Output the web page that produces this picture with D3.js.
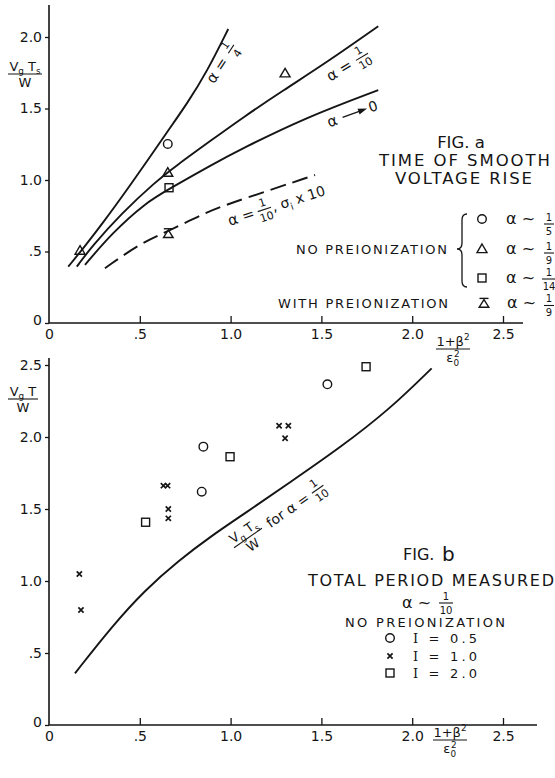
<!DOCTYPE html>
<html>
<head>
<meta charset="utf-8">
<script src="https://cdn.jsdelivr.net/npm/d3@7"></script>
<style>
  body { margin: 0; background: #fff; }
  svg text { font-family: "DejaVu Sans", sans-serif; fill: #151515; }
</style>
</head>
<body>
<div id="chart"></div>
<script>
// ---------- data ----------
const xTickValues = [0, 0.5, 1.0, 1.5, 2.0, 2.5];
const xTickLabels = ["0", ".5", "1.0", "1.5", "2.0", "2.5"];
const yTickValuesA = [0, 0.5, 1.0, 1.5, 2.0];
const yTickLabelsA = ["0", ".5", "1.0", "1.5", "2.0"];
const yTickValuesB = [0, 0.5, 1.0, 1.5, 2.0, 2.5];
const yTickLabelsB = ["0", ".5", "1.0", "1.5", "2.0", "2.5"];

// fig a - computed curves, [x, y]
const curveAlphaQuarter = [[0.106, 0.394], [0.198, 0.537], [0.300, 0.705], [0.420, 0.915], [0.540, 1.131],
  [0.650, 1.335], [0.760, 1.533], [0.870, 1.758], [0.987, 2.056]];
const curveAlphaTenth = [[0.153, 0.394], [0.235, 0.534], [0.400, 0.767], [0.584, 0.985], [0.700, 1.100],
  [0.896, 1.280], [1.065, 1.435], [1.290, 1.627], [1.529, 1.822], [1.813, 2.075]];
const curveAlphaZero = [[0.198, 0.406], [0.345, 0.626], [0.529, 0.838], [0.660, 0.936], [0.896, 1.106],
  [1.065, 1.221], [1.419, 1.440], [1.813, 1.629]];
const curvePreion = [[0.308, 0.383], [0.515, 0.568], [0.657, 0.640], [0.868, 0.778], [1.065, 0.866], [1.465, 1.035]];

// fig a - measured points
const aCircles = [[0.654, 1.252]];
const aTriangles = [[0.171, 0.506], [0.654, 1.051], [1.300, 1.746]];
const aSquares = [[0.661, 0.946]];
const aPreion = [[0.657, 0.627]];

// fig b - curve Vg Ts / W for alpha = 1/10
const bCurve = [[0.143, 0.359], [0.345, 0.683], [0.529, 0.938], [0.712, 1.140], [0.896, 1.315],
  [1.079, 1.470], [1.327, 1.685], [1.602, 1.925], [1.878, 2.195], [2.107, 2.477]];

// fig b - measured points
const bCircles = [[0.850, 1.933], [0.841, 1.620], [1.533, 2.366]];
const bCrosses = [[0.167, 1.049], [0.176, 0.799], [0.630, 1.662], [0.653, 1.662], [0.657, 1.500],
  [0.657, 1.435], [1.267, 2.078], [1.318, 2.078], [1.300, 1.991]];
const bSquares = [[0.532, 1.408], [0.997, 1.863], [1.746, 2.488]];

// legends
const legendASymbols = ["circle", "triangle", "square"];
const legendADens = ["5", "9", "14"];
const legendBSymbols = ["circle", "cross", "square"];
const legendBValues = ["0.5", "1.0", "2.0"];

// ---------- setup ----------
const W = 555, H = 778;
const ink = "#151515";

const svg = d3.select("#chart").append("svg")
  .attr("width", W).attr("height", H);
svg.append("rect").attr("width", W).attr("height", H).attr("fill", "#fff");

const x = d3.scaleLinear().domain([0, 2.5]).range([49, 503]);
const yA = d3.scaleLinear().domain([0, 2.0]).range([323, 37]);
const yB = d3.scaleLinear().domain([0, 2.5]).range([725, 365]);

// text with sub/superscripts
function rich(sel, segs, size) {
  let off = 0;
  segs.forEach(s => {
    const ts = sel.append("tspan").text(s.t);
    let target = 0;
    if (s.sub) target = size * 0.28;
    if (s.sup) target = -size * 0.42;
    if (s.sub || s.sup) ts.attr("font-size", size * 0.68);
    ts.attr("dy", target - off);
    if (s.dx) ts.attr("dx", s.dx);
    off = target;
  });
  return sel;
}

function frac(g, cx, yBar, num, den, size, halfW) {
  const t1 = g.append("text").attr("x", cx).attr("y", yBar - 3.5)
    .attr("text-anchor", "middle").attr("font-size", size);
  if (typeof num === "string") t1.text(num); else rich(t1, num, size);
  const t2 = g.append("text").attr("x", cx).attr("y", yBar + size * 0.85 + 2)
    .attr("text-anchor", "middle").attr("font-size", size);
  if (typeof den === "string") t2.text(den); else rich(t2, den, size);
  g.append("line").attr("x1", cx - halfW).attr("x2", cx + halfW)
    .attr("y1", yBar).attr("y2", yBar)
    .attr("stroke", ink).attr("stroke-width", 1.1);
}

function marker(g, type, cx, cy) {
  const m = g.append("g").attr("transform", `translate(${cx},${cy})`)
    .attr("fill", "none").attr("stroke", ink).attr("stroke-width", 1.4);
  if (type === "circle") m.append("circle").attr("r", 4.3);
  if (type === "square") m.append("rect").attr("x", -4).attr("y", -4).attr("width", 8).attr("height", 8);
  if (type === "triangle") m.append("path").attr("d", "M0,-5L5,3.6L-5,3.6Z");
  if (type === "preion") {
    m.append("path").attr("d", "M0,-3.4L4.8,4.2L-4.8,4.2Z");
    m.append("line").attr("x1", -4.5).attr("x2", 4.5).attr("y1", -4.6).attr("y2", -4.6);
  }
  if (type === "cross") {
    m.attr("stroke-width", 1.7);
    m.append("path").attr("d", "M-2.6,-2.6L2.6,2.6M2.6,-2.6L-2.6,2.6");
  }
}

function drawAxes(g, y, yVals, yLabels, xEnd, yTop) {
  const xAxis = d3.axisBottom(x).tickValues(xTickValues)
    .tickFormat((d, i) => xTickLabels[i]).tickSizeInner(-7).tickSizeOuter(0).tickPadding(6);
  const gx = g.append("g").attr("transform", `translate(0,${y(0)})`).call(xAxis);
  gx.select(".domain").remove();
  gx.selectAll(".tick line").attr("stroke", ink).attr("stroke-width", 1.3);
  gx.selectAll(".tick text").attr("font-size", 14).attr("fill", ink)
    .attr("font-family", "DejaVu Sans, sans-serif");
  gx.selectAll(".tick").filter(d => d === 0).select("line").remove();

  const yAxis = d3.axisLeft(y).tickValues(yVals)
    .tickFormat((d, i) => yLabels[i]).tickSizeInner(4).tickSizeOuter(0).tickPadding(3);
  const gy = g.append("g").attr("transform", `translate(${x(0)},0)`).call(yAxis);
  gy.select(".domain").remove();
  gy.selectAll(".tick line").attr("stroke", ink).attr("stroke-width", 1.3);
  gy.selectAll(".tick text").attr("font-size", 14).attr("fill", ink)
    .attr("font-family", "DejaVu Sans, sans-serif");
  gy.selectAll(".tick").filter(d => d === 0).select("text").attr("dy", "0.1em");

  g.append("line").attr("x1", x(0)).attr("x2", xEnd).attr("y1", y(0)).attr("y2", y(0))
    .attr("stroke", ink).attr("stroke-width", 1.6);
  g.append("line").attr("x1", x(0)).attr("x2", x(0)).attr("y1", yTop).attr("y2", y(0))
    .attr("stroke", ink).attr("stroke-width", 1.6);
}

function curve(g, data, y, dash) {
  const line = d3.line().x(d => x(d[0])).y(d => y(d[1])).curve(d3.curveBasis);
  g.append("path").datum(data).attr("d", line)
    .attr("fill", "none").attr("stroke", ink).attr("stroke-width", 1.9)
    .attr("stroke-dasharray", dash || null);
}

const xFracNum = [{ t: "1+β" }, { t: "2", sup: true }];
const xFracDen = [{ t: "ε" }, { t: "0", sub: true }, { t: "2", sup: true, dx: -5 }];

// ---------- fig a ----------
const ga = svg.append("g").attr("class", "fig-a");
drawAxes(ga, yA, yTickValuesA, yTickLabelsA, 523, 5);

curve(ga, curveAlphaQuarter, yA);
curve(ga, curveAlphaTenth, yA);
curve(ga, curveAlphaZero, yA);
curve(ga, curvePreion, yA, "16,7");

aCircles.forEach(d => marker(ga, "circle", x(d[0]), yA(d[1])));
aTriangles.forEach(d => marker(ga, "triangle", x(d[0]), yA(d[1])));
aSquares.forEach(d => marker(ga, "square", x(d[0]), yA(d[1])));
aPreion.forEach(d => marker(ga, "preion", x(d[0]), yA(d[1])));

// y label
frac(ga, 25, 74, [{ t: "V" }, { t: "g", sub: true }, { t: " T" }, { t: "s", sub: true }], "W", 13, 17);
// x label
frac(ga, 453, 349, xFracNum, xFracDen, 13, 17);

// curve labels
const lq = ga.append("g").attr("transform", "translate(224,60) rotate(-57)");
lq.append("text").attr("x", -26).attr("y", 5).attr("font-size", 15).text("α =");
frac(lq, 13, 0, "1", "4", 11, 5);

const lt = ga.append("g").attr("transform", "translate(350,64) rotate(-31)");
lt.append("text").attr("x", -26).attr("y", 5).attr("font-size", 15).text("α =");
frac(lt, 14, 0, "1", "10", 11, 7);

const lz = ga.append("g").attr("transform", "translate(352,114) rotate(-20)");
lz.append("text").attr("x", -26).attr("y", 5).attr("font-size", 15).text("α");
lz.append("line").attr("x1", -10).attr("x2", 12).attr("y1", 0).attr("y2", 0)
  .attr("stroke", ink).attr("stroke-width", 1.3);
lz.append("path").attr("d", "M16,0L7,-3L7,3Z").attr("fill", ink);
lz.append("text").attr("x", 18).attr("y", 5).attr("font-size", 14).text("0");

const lp = ga.append("g").attr("transform", "translate(272,207) rotate(-18)");
lp.append("text").attr("x", -46).attr("y", 5).attr("font-size", 15).text("α =");
frac(lp, -8, 0, "1", "10", 11, 7);
rich(lp.append("text").attr("x", 0).attr("y", 5).attr("font-size", 14),
  [{ t: ", σ" }, { t: "i", sub: true }, { t: " x 10" }], 14);

// title
ga.append("text").attr("x", 461).attr("y", 148).attr("text-anchor", "middle")
  .attr("font-size", 16.5).text("FIG. a");
ga.append("text").attr("x", 379).attr("y", 166).attr("font-size", 16.5)
  .attr("textLength", 171).attr("lengthAdjust", "spacing").text("TIME OF SMOOTH");
ga.append("text").attr("x", 395).attr("y", 184).attr("font-size", 16.5)
  .attr("textLength", 137).attr("lengthAdjust", "spacing").text("VOLTAGE RISE");

// legend a
const rowsA = [219, 249, 278];
const barShiftA = [5, 4, 1];
ga.append("text").attr("x", 296).attr("y", 254).attr("font-size", 13)
  .attr("textLength", 151).attr("lengthAdjust", "spacing").text("NO PREIONIZATION");
ga.append("path")
  .attr("d", "M467,214Q462,214 462,220L462,243Q462,249 457,249Q462,249 462,255L462,281Q462,287 467,287")
  .attr("fill", "none").attr("stroke", ink).attr("stroke-width", 1.3);
rowsA.forEach((ry, i) => {
  marker(ga, legendASymbols[i], 482, ry);
  ga.append("text").attr("x", 506).attr("y", ry + 5).attr("font-size", 16).text("α ~");
  frac(ga, 549, ry + barShiftA[i], "1", legendADens[i], 10, legendADens[i].length > 1 ? 7 : 5);
});
ga.append("text").attr("x", 278).attr("y", 308).attr("font-size", 13)
  .attr("textLength", 170).attr("lengthAdjust", "spacing").text("WITH PREIONIZATION");
marker(ga, "preion", 484, 303);
ga.append("text").attr("x", 507).attr("y", 308).attr("font-size", 16).text("α ~");
frac(ga, 549, 305.5, "1", "9", 10, 5);

// ---------- fig b ----------
const gb = svg.append("g").attr("class", "fig-b");
drawAxes(gb, yB, yTickValuesB, yTickLabelsB, 537, 358);

curve(gb, bCurve, yB);
bCircles.forEach(d => marker(gb, "circle", x(d[0]), yB(d[1])));
bCrosses.forEach(d => marker(gb, "cross", x(d[0]), yB(d[1])));
bSquares.forEach(d => marker(gb, "square", x(d[0]), yB(d[1])));

frac(gb, 23, 399, [{ t: "V" }, { t: "g", sub: true }, { t: " T" }], "W", 13, 15);
frac(gb, 450, 740, xFracNum, xFracDen, 13, 17);

// curve label
const lb = gb.append("g").attr("transform", "translate(248,538) rotate(-35)");
frac(lb, 0, 0, [{ t: "V" }, { t: "g", sub: true }, { t: " T" }, { t: "s", sub: true }], "W", 13, 17);
lb.append("text").attr("x", 24).attr("y", 5).attr("font-size", 14).text("for α =");
frac(lb, 85, 0, "1", "10", 11, 7);

// title + legend b
gb.append("text").attr("x", 403).attr("y", 560).attr("font-size", 16).text("FIG.");
gb.append("text").attr("x", 442).attr("y", 561).attr("font-size", 20).text("b");
gb.append("text").attr("x", 308).attr("y", 586).attr("font-size", 16)
  .attr("textLength", 246).attr("lengthAdjust", "spacing").text("TOTAL PERIOD MEASURED");
gb.append("text").attr("x", 402).attr("y", 608).attr("font-size", 16).text("α ~");
frac(gb, 446, 603, "1", "10", 10, 7);
gb.append("text").attr("x", 345).attr("y", 627).attr("font-size", 13)
  .attr("textLength", 160).attr("lengthAdjust", "spacing").text("NO PREIONIZATION");
const rowsB = [638, 656, 673];
rowsB.forEach((ry, i) => {
  marker(gb, legendBSymbols[i], 390, ry);
  const t = gb.append("text").attr("x", 413).attr("y", ry + 5).attr("font-size", 13)
    .attr("textLength", 64).attr("lengthAdjust", "spacing");
  t.append("tspan").attr("font-family", "DejaVu Serif, serif").text("I");
  t.append("tspan").text(" = " + legendBValues[i]);
});
</script>
</body>
</html>
